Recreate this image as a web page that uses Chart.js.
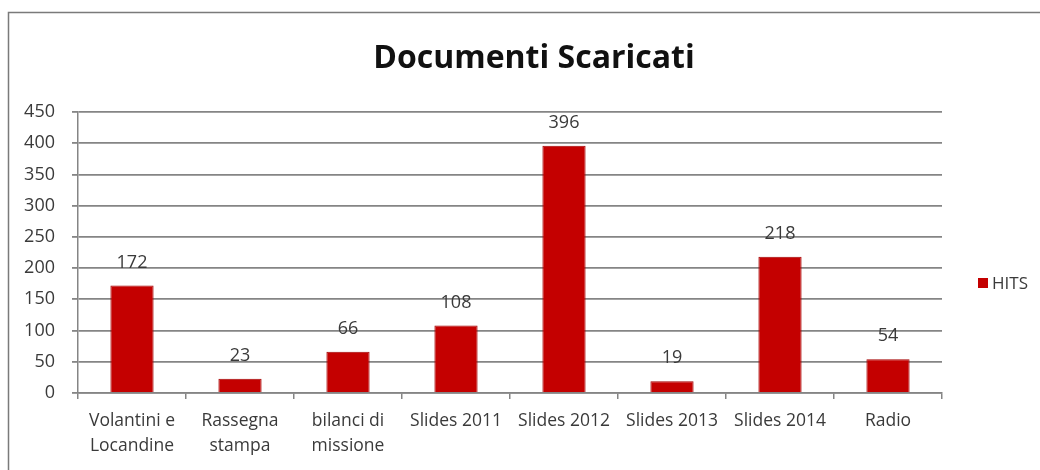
<!DOCTYPE html>
<html>
<head>
<meta charset="utf-8">
<script src="https://cdn.jsdelivr.net/npm/chart.js@4"></script>
<style>
  html, body { margin: 0; padding: 0; background: #fff; }
  #wrap { width: 1040px; height: 470px; position: relative; }
</style>
</head>
<body>
<div id="wrap"><canvas id="hitsChart" width="1040" height="470"></canvas></div>
<script>
const titolo = 'Documenti Scaricati';
const categorie = [
    ['Volantini e', 'Locandine'],
    ['Rassegna', 'stampa'],
    ['bilanci di', 'missione'],
    'Slides 2011',
    'Slides 2012',
    'Slides 2013',
    'Slides 2014',
    'Radio'
];
const serieNome = 'HITS';
const hits = [172, 23, 66, 108, 396, 19, 218, 54];
const yMax = 450;
const yStep = 50;

const ROSSO = '#c40000';
const GRIGIO = '#858585';
const TESTO = '#3a3a3a';
const FONT = "'Open Sans', sans-serif";

// frame, title, legend and value labels drawn on top of the chart
const decorPlugin = {
    id: 'decor',
    afterDraw(chart) {
        const ctx = chart.ctx;
        ctx.save();

        // outer frame
        ctx.strokeStyle = '#7a7a7a';
        ctx.lineWidth = 1.5;
        ctx.strokeRect(8.5, 12.5, 1100, 600);

        // title
        ctx.fillStyle = '#111';
        ctx.font = "bold 32px 'Open Sans', sans-serif";
        ctx.textAlign = 'center';
        ctx.textBaseline = 'alphabetic';
        ctx.fillText(titolo, 534, 68);

        // values above bars
        const meta = chart.getDatasetMeta(0);
        ctx.font = '18px ' + FONT;
        ctx.fillStyle = TESTO;
        ctx.textBaseline = 'middle';
        meta.data.forEach((bar, i) => {
            ctx.fillText(String(hits[i]), bar.x, bar.y - 23);
        });

        // legend
        ctx.fillStyle = ROSSO;
        ctx.fillRect(978, 278, 10, 10);
        ctx.fillStyle = TESTO;
        ctx.font = '17px ' + FONT;
        ctx.textAlign = 'left';
        ctx.fillText(serieNome, 992, 284);

        ctx.restore();
    }
};

new Chart(document.getElementById('hitsChart'), {
    type: 'bar',
    data: {
        labels: categorie,
        datasets: [{
            label: serieNome,
            data: hits,
            backgroundColor: ROSSO,
            borderColor: '#a30000',
            borderWidth: 1,
            categoryPercentage: 0.4,
            barPercentage: 1
        }]
    },
    options: {
        responsive: false,
        animation: false,
        layout: { padding: { top: 112, right: 98, bottom: 0, left: 0 } },
        plugins: {
            legend: { display: false },
            title: { display: false },
            tooltip: { enabled: false }
        },
        scales: {
            x: {
                afterFit: s => { s.height = 77; },
                grid: {
                    drawOnChartArea: false,
                    drawTicks: true,
                    tickLength: 6,
                    color: GRIGIO,
                    lineWidth: 1.5
                },
                border: { color: GRIGIO, width: 1.5 },
                ticks: {
                    color: TESTO,
                    padding: 9,
                    maxRotation: 0,
                    autoSkip: false,
                    font: { family: FONT, size: 17.5, lineHeight: 1.45 }
                }
            },
            y: {
                min: 0,
                max: yMax,
                afterFit: s => { s.width = 78; },
                grid: {
                    color: GRIGIO,
                    lineWidth: 1.8,
                    tickLength: 6
                },
                border: { color: GRIGIO, width: 1.5 },
                ticks: {
                    stepSize: yStep,
                    color: TESTO,
                    padding: 17,
                    font: { family: FONT, size: 18 }
                }
            }
        }
    },
    plugins: [decorPlugin]
});
</script>
</body>
</html>
